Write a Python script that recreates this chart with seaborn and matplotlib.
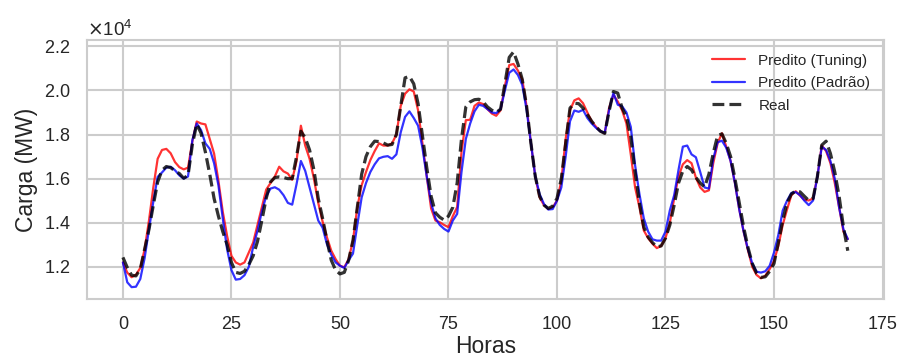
import numpy as np
import pandas as pd
import matplotlib
matplotlib.use("Agg")
import matplotlib.pyplot as plt
import seaborn as sns

# carga horária (MW), 168 horas
real = [12430, 11970, 11620, 11590, 11900, 12800, 13700, 14800, 15850, 16380,
        16550, 16500, 16350, 16230, 16020, 16150, 17550, 18480, 18060, 17200,
        16200, 15100, 14300, 13600, 13000, 12200, 11750, 11700, 11800, 12100,
        12500, 13150, 14100, 15100, 15850, 16050, 16080, 16050, 16000, 16000,
        17000, 18150, 17850, 17300, 16400, 15100, 14200, 13200, 12300, 11850,
        11680, 11750, 12300, 13200, 14700, 16200, 17000, 17450, 17700, 17680,
        17620, 17520, 17550, 18000, 19300, 20570, 20640, 20300, 19400, 17950,
        16500, 15200, 14450, 14250, 14120, 14300, 14700, 15800, 17800, 19250,
        19480, 19580, 19600, 19480, 19250, 19100, 19000, 19150, 20300, 21500,
        21750, 21200, 20500, 19280, 17600, 16100, 15200, 14800, 14650, 14750,
        15100, 16000, 17600, 19200, 19420, 19400, 19200, 18900, 18600, 18350,
        18150, 18050, 19050, 19950, 19880, 19200, 18800, 17900, 16300, 14900,
        13800, 13350, 13100, 12900, 12950, 13300, 13900, 14800, 15800, 16350,
        16550, 16400, 16050, 15800, 15620, 16200, 17150, 17950, 18030, 17600,
        17000, 16000, 14900, 13800, 12880, 12150, 11700, 11520, 11550, 11800,
        12150, 13100, 14100, 14900, 15300, 15450, 15400, 15200, 15010, 15100,
        16100, 17520, 17700, 17140, 16300, 15200, 13800, 12730]

tuning = [12200, 11740, 11530, 11640, 11950, 12800, 14100, 15600, 16900, 17300,
          17350, 17150, 16750, 16520, 16420, 16500, 17700, 18590, 18500, 18460,
          17800, 17140, 15900, 14500, 13400, 12500, 12200, 12100, 12200, 12650,
          13100, 13900, 14700, 15500, 15800, 16100, 16540, 16330, 16230, 15950,
          16800, 18400, 17500, 16900, 16000, 14900, 14050, 13340, 12730, 12350,
          12050, 11980, 12350, 13200, 14700, 15700, 16300, 16840, 17250, 17600,
          17500, 17500, 17600, 18000, 19300, 19850, 20050, 19950, 19100, 17600,
          16100, 14650, 14100, 14020, 13900, 13800, 14300, 14710, 17200, 18650,
          18670, 19300, 19450, 19380, 19150, 18950, 18850, 19100, 20200, 21150,
          21200, 20900, 20500, 19280, 17600, 16100, 15150, 14800, 14620, 14700,
          15000, 15900, 17800, 19100, 19550, 19640, 19420, 19000, 18600, 18350,
          18150, 18060, 19200, 19800, 19500, 19100, 18500, 17100, 15600, 14700,
          13650, 13300, 13050, 12850, 12950, 13300, 14000, 15100, 16100, 16650,
          16840, 16700, 16050, 15600, 15400, 15470, 16700, 17600, 18060, 17450,
          16800, 15800, 14600, 13600, 12750, 12000, 11630, 11480, 11600, 11900,
          12270, 12950, 13900, 14600, 15250, 15430, 15230, 15040, 15010, 15100,
          16100, 17500, 17250, 16700, 15800, 14700, 13600, 13260]

padrao = [12200, 11300, 11080, 11100, 11450, 12400, 13700, 14950, 16080, 16280,
          16500, 16540, 16380, 16150, 16000, 16100, 17750, 18500, 18200, 17600,
          17350, 16700, 15700, 14200, 12800, 11850, 11420, 11450, 11620, 12000,
          12900, 13640, 14500, 15200, 15550, 15610, 15500, 15250, 14900, 14820,
          15750, 16800, 16350, 15600, 14850, 14100, 13780, 13030, 12550, 12200,
          12050, 11950, 12300, 12600, 13900, 15150, 15800, 16300, 16650, 16920,
          16990, 17020, 16900, 17100, 18100, 18800, 19050, 18750, 18400, 17400,
          16100, 14900, 14200, 13900, 13720, 13600, 14100, 14400, 16300, 17800,
          18500, 19050, 19350, 19300, 19150, 19000, 18970, 19150, 20000, 20800,
          20950, 20700, 20250, 19120, 17600, 16100, 15300, 14850, 14600, 14620,
          15000, 15600, 17000, 18600, 19090, 19030, 19120, 18750, 18500, 18300,
          18150, 18080, 19100, 19880, 19350, 19280, 19000, 18350, 16600, 15300,
          14200, 13600, 13250, 13190, 13190, 13600, 14560, 15250, 16400, 17450,
          17500, 17100, 16970, 16300, 15600, 15550, 16900, 17650, 17720, 17400,
          16800, 15800, 14600, 13600, 12800, 12150, 11780, 11740, 11800, 12050,
          12650, 13450, 14550, 15000, 15350, 15390, 15250, 15000, 14800, 15010,
          16100, 17450, 17300, 16800, 16000, 14700, 13700, 13260]

horas = np.arange(len(real))

df = pd.DataFrame({"Horas": horas, "Real": real,
                   "Tuning": tuning, "Padrao": padrao})

sns.set_theme(style="whitegrid", rc={"grid.linewidth": 1.5,
                                     "axes.linewidth": 1.5})
plt.rcParams["font.family"] = ["Liberation Sans", "DejaVu Sans"]

fig, ax = plt.subplots(figsize=(9.03, 3.61), dpi=100)
fig.subplots_adjust(left=0.096, right=0.979, top=0.889, bottom=0.172)

sns.lineplot(data=df, x="Horas", y="Tuning", color="red", alpha=0.8,
             linewidth=1.6, label="Predito (Tuning)", ax=ax)
sns.lineplot(data=df, x="Horas", y="Padrao", color="blue", alpha=0.8,
             linewidth=1.6, label="Predito (Padrão)", ax=ax)
sns.lineplot(data=df, x="Horas", y="Real", color="black", alpha=0.8,
             linewidth=2.3, linestyle="--", label="Real", ax=ax)

ax.ticklabel_format(axis="y", style="sci", scilimits=(0, 0), useMathText=True)
ax.set_xticks([0, 25, 50, 75, 100, 125, 150, 175])
ax.set_xlabel("Horas", fontsize=16.5, labelpad=2)
ax.set_ylabel("Carga (MW)", fontsize=16.5)
ax.tick_params(labelsize=13, pad=6)
ax.yaxis.get_offset_text().set_fontsize(13.5)
ax.legend(loc="upper right", frameon=False, fontsize=11, handlelength=2.2,
          handletextpad=0.85, labelspacing=0.55)

plt.savefig("out.png", dpi=100)
